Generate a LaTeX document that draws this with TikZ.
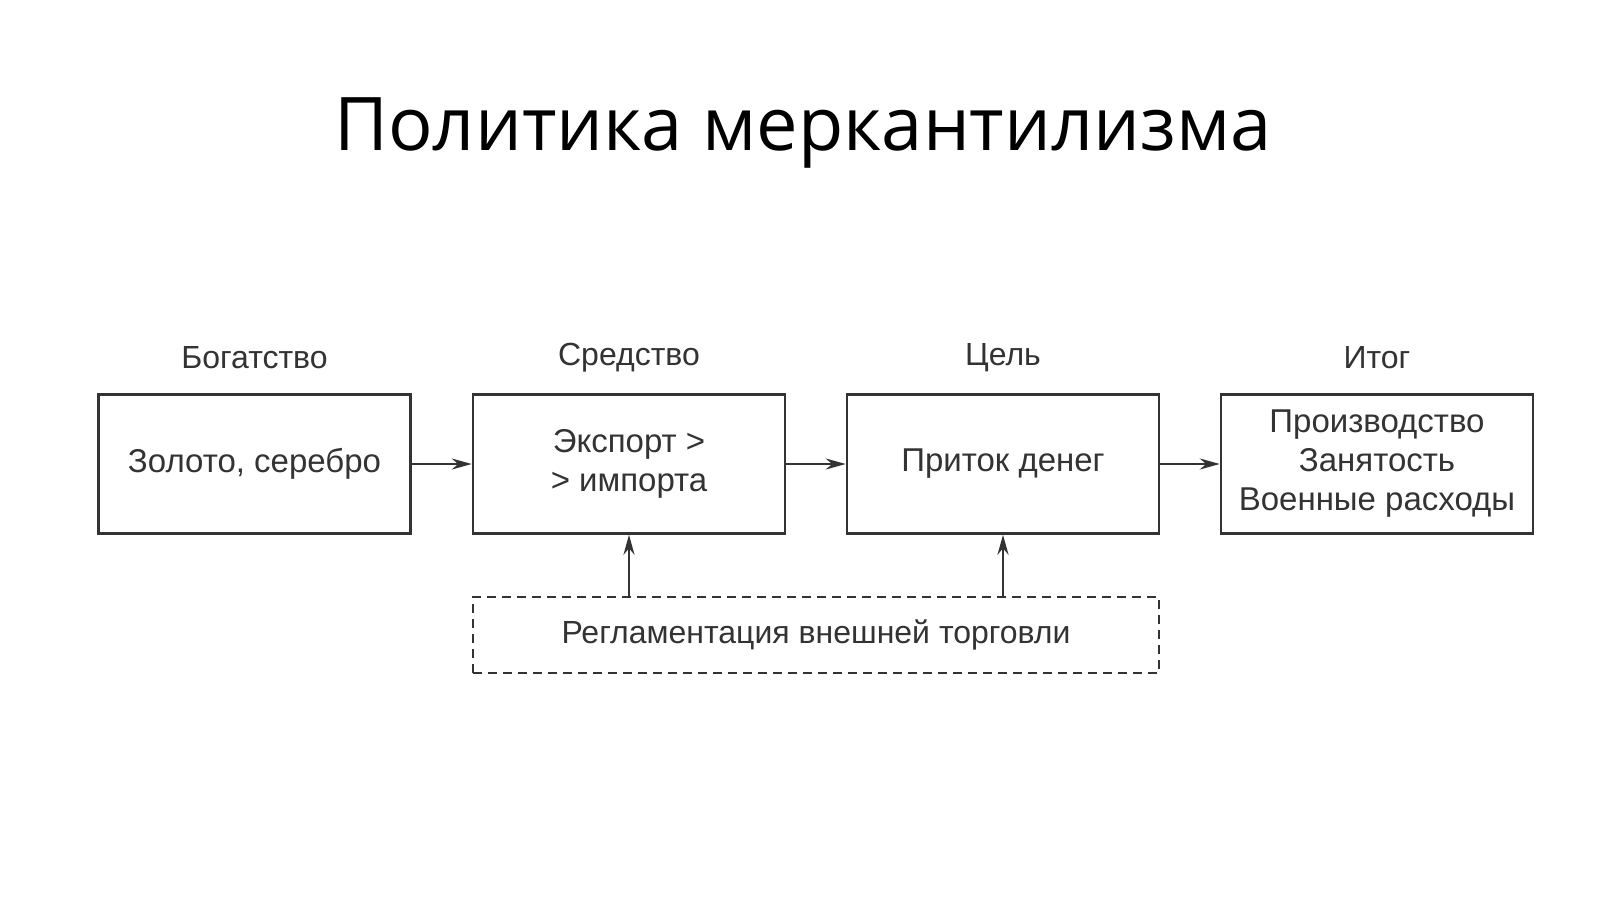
\documentclass[tikz,border=0pt]{standalone}
\usepackage{fontspec}
\setmainfont{Liberation Sans}
\newfontfamily\titlefont{Open Sans}
\usetikzlibrary{arrows.meta}
\begin{document}
\begin{tikzpicture}[x=1pt,y=-1pt,
  box/.style={draw=black!80,line width=2.5pt,minimum width=312pt,minimum height=139pt,align=center,font=\fontsize{33}{39}\selectfont,text=black!80},
  lab/.style={font=\fontsize{32}{36}\selectfont,text=black!80},
  arr/.style={-{Stealth[length=20pt,width=11pt]},line width=2.5pt,draw=black!80}]
\useasboundingbox[fill=white] (0,0) rectangle (1600,899);
\node[font=\titlefont\fontsize{74}{80}\selectfont] (t) at (803,133) {Политика меркантилизма};
\node[box] (b1) at (254.5,464) {Золото, серебро};
\node[box] (b2) at (629,464) {Экспорт >\\> импорта};
\node[box] (b3) at (1003,464) {Приток денег};
\node[box] (b4) at (1377,464) {Производство\\Занятость\\Военные расходы};
\node[lab] (l1) at (254.5,358) {Богатство};
\node[lab] (l2) at (629,358) {Средство};
\node[lab] (l3) at (1003,358) {Цель};
\node[lab] (l4) at (1377,358) {Итог};
\node[draw=black!80,dash pattern=on 9pt off 6pt,line width=2.5pt,minimum width=686pt,minimum height=76pt,font=\fontsize{32}{36}\selectfont,text=black!80] (r) at (816,635) {Регламентация внешней торговли};
\draw[arr] (b1) -- (b2);
\draw[arr] (b2) -- (b3);
\draw[arr] (b3) -- (b4);
\draw[arr] (r.north -| b2) -- (b2.south);
\draw[arr] (r.north -| b3) -- (b3.south);
\end{tikzpicture}
\end{document}
